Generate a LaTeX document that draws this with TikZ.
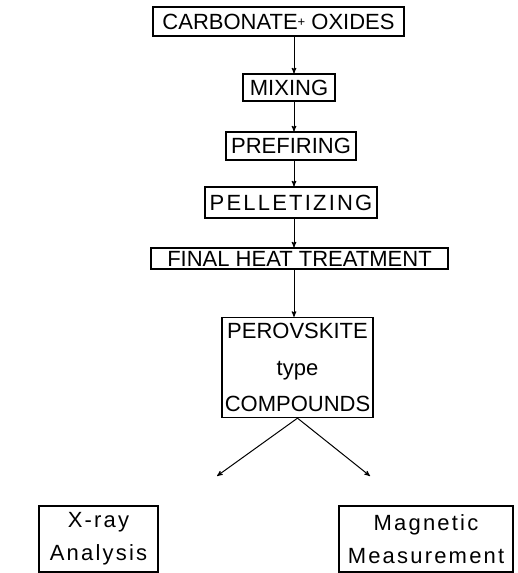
\documentclass[tikz,border=0pt]{standalone}
\usepackage{fontspec}
\setmainfont{Liberation Sans}
\newfontfamily\spaced[LetterSpace=10]{Liberation Sans}
\usetikzlibrary{arrows}

\begin{document}
\begin{tikzpicture}[x=1pt,y=-1pt,>=stealth',line width=1pt,
                    box/.style={draw,line width=1.3pt,inner sep=0pt,align=center,
                      font=\fontsize{22}{36.5}\selectfont},
                    wide box/.style={box,font=\spaced\fontsize{22}{33}\selectfont}]
\useasboundingbox (0,0) rectangle (517,573);

\node[box,minimum width=251pt,minimum height=29pt] (1) at (278.5,21.5)
  {CARBONATE\raisebox{3pt}{\fontsize{13}{13}\selectfont+} OXIDES};
\node[box,minimum width=92pt,minimum height=27pt] (2) at (289,87.5) {MIXING};
\node[box,minimum width=130pt,minimum height=28pt] (3) at (291,146) {PREFIRING};
\node[box,minimum width=172pt,minimum height=31pt,font=\spaced\fontsize{22}{36}\selectfont]
  (4) at (291,202.5) {PELLETIZING};
\node[box,minimum width=297pt,minimum height=21pt] (5) at (299.5,258.5) {FINAL HEAT TREATMENT};
\node[box,minimum width=151pt,minimum height=100pt] (6) at (297.5,367.5)
  {PEROVSKITE\\type\\COMPOUNDS};
\node[wide box,minimum width=119pt,minimum height=66pt] (7) at (98.5,539) {X-ray\\Analysis};
\node[wide box,minimum width=174pt,minimum height=66pt] (8) at (426,539) {Magnetic\\Measurement};

\coordinate (c) at (294,0);
\coordinate (l) at (217,476);
\coordinate (r) at (370,476);

\path[->]
  (1.south -| c) edge (2.north -| c)
  (2.south -| c) edge (3.north -| c)
  (3.south -| c) edge (4.north -| c)
  (4.south -| c) edge (5.north -| c)
  (5.south -| c) edge (6.north -| c)
  (6.south) edge (l)
            edge (r);

\end{tikzpicture}
\end{document}
